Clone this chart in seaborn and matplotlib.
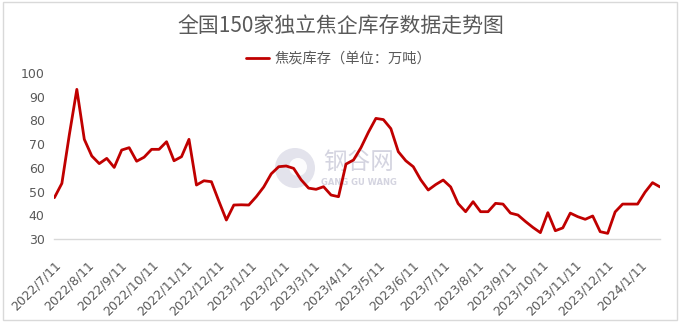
import numpy as np
import pandas as pd
import matplotlib
matplotlib.use("Agg")
import matplotlib.pyplot as plt
import matplotlib.transforms as mtransforms
from matplotlib.patches import Rectangle, Ellipse
import seaborn as sns

# ---- data ----
start_date = "2022-07-11"
n_weeks = 82
inventory = [
    47.5, 53.5, 74.0, 93.0, 72.0, 65.0, 61.8, 64.0, 60.2, 67.5,
    68.5, 62.8, 64.5, 67.8, 67.8, 71.0, 63.0, 64.7, 72.0, 52.8,
    54.6, 54.2, 46.0, 38.1, 44.4, 44.5, 44.4, 47.9, 52.0, 57.5,
    60.5, 60.8, 59.8, 55.0, 51.5, 51.0, 52.1, 48.6, 47.9, 61.6,
    63.3, 68.5, 75.0, 80.8, 80.3, 76.5, 66.8, 63.0, 60.5, 55.0,
    50.7, 53.0, 54.9, 52.0, 45.0, 41.6, 45.8, 41.6, 41.6, 45.1,
    44.8, 41.0, 40.2, 37.5, 35.0, 32.8, 41.2, 33.6, 34.8, 41.0,
    39.5, 38.4, 39.8, 33.2, 32.5, 41.5, 44.8, 44.8, 44.8, 49.8,
    53.8, 52.0,
]
tick_dates = ["2022-07-11", "2022-08-11", "2022-09-11", "2022-10-11", "2022-11-11",
              "2022-12-11", "2023-01-11", "2023-02-11", "2023-03-11", "2023-04-11",
              "2023-05-11", "2023-06-11", "2023-07-11", "2023-08-11", "2023-09-11",
              "2023-10-11", "2023-11-11", "2023-12-11", "2024-01-11"]
tick_labels = ["2022/7/11", "2022/8/11", "2022/9/11", "2022/10/11", "2022/11/11",
               "2022/12/11", "2023/1/11", "2023/2/11", "2023/3/11", "2023/4/11",
               "2023/5/11", "2023/6/11", "2023/7/11", "2023/8/11", "2023/9/11",
               "2023/10/11", "2023/11/11", "2023/12/11", "2024/1/11"]
y_ticks = [30, 40, 50, 60, 70, 80, 90, 100]
title = "全国150家独立焦企库存数据走势图"
series_name = "焦炭库存（单位：万吨）"

dates = pd.date_range(start_date, periods=n_weeks, freq="7D")
df = pd.DataFrame({"date": dates, "value": inventory, "series": series_name})

sns.set_theme(style="white")
plt.rcParams["font.family"] = ["Noto Sans CJK SC", "DejaVu Sans"]

W, H = 683, 324
fig = plt.figure(figsize=(W / 100, H / 100), dpi=100)

# watermark (behind the plot)
fig.add_artist(Ellipse((295 / W, 1 - 168 / H), 40 / W, 40 / H, transform=fig.transFigure,
                       facecolor="#DCDCE8", edgecolor="none", alpha=0.8, zorder=-5))
fig.add_artist(Ellipse((298 / W, 1 - 167 / H), 18 / W, 18 / H, transform=fig.transFigure,
                       facecolor="white", edgecolor="none", alpha=0.9, zorder=-4))
fig.text(359 / W, 1 - 162 / H, "钢谷网", ha="center", va="center", fontsize=17,
         color="#D4D4E0", zorder=-3)
fig.text(359 / W, 1 - 182 / H, "GANG GU WANG", ha="center", va="center", fontsize=6,
         color="#D4D4E0", fontweight="bold", zorder=-3, family="DejaVu Sans")

ax = fig.add_axes([54.4 / W, 1 - 239.3 / H, (660 - 54.4) / W, (239.3 - 72.7) / H])
ax.patch.set_alpha(0)

sns.lineplot(data=df, x="date", y="value", hue="series", palette=["#C00000"],
             linewidth=2.0, ax=ax, legend=False)
for ln in ax.get_lines():
    ln.set_solid_joinstyle("round")
    ln.set_solid_capstyle("round")

ax.set_xlim(dates[0], dates[-1])
ax.set_ylim(30, 100)
ax.set_yticks(y_ticks)
ax.set_yticklabels([str(v) for v in y_ticks], fontsize=9, color="#595959",
                   family="DejaVu Sans")
ax.set_xticks(pd.to_datetime(tick_dates))
ax.set_xticklabels(tick_labels, fontsize=9, color="#595959", family="DejaVu Sans",
                   rotation=45, ha="right", va="center", rotation_mode="anchor")
ax.set_xlabel("")
ax.set_ylabel("")
for s in ["left", "top", "right"]:
    ax.spines[s].set_visible(False)
ax.spines["bottom"].set_color("#D9D9D9")
ax.spines["bottom"].set_linewidth(1.0)
ax.tick_params(axis="x", direction="out", length=4, width=1.0, color="#D9D9D9", pad=13)
ax.tick_params(axis="y", length=0, pad=7)
ax.grid(False)
offset = mtransforms.ScaledTranslation(4 / 100, 0, fig.dpi_scale_trans)
for lab in ax.get_xticklabels():
    lab.set_transform(lab.get_transform() + offset)

# title and legend
fig.text(341 / W, 1 - 27 / H, title, ha="center", va="center", fontsize=15,
         color="#595959")
fig.add_artist(plt.Line2D([246 / W, 269 / W], [1 - 58.3 / H] * 2, color="#C00000",
                          linewidth=2.0, transform=fig.transFigure))
fig.text(275 / W, 1 - 58.3 / H, series_name, ha="left", va="center", fontsize=10.3,
         color="#595959")

# chart border
fig.add_artist(Rectangle((3 / W, 1 - 320 / H), (677 - 3) / W, (320 - 2) / H,
                         transform=fig.transFigure, fill=False, edgecolor="#D9D9D9",
                         linewidth=1.0))

fig.savefig("out.png", dpi=100)
